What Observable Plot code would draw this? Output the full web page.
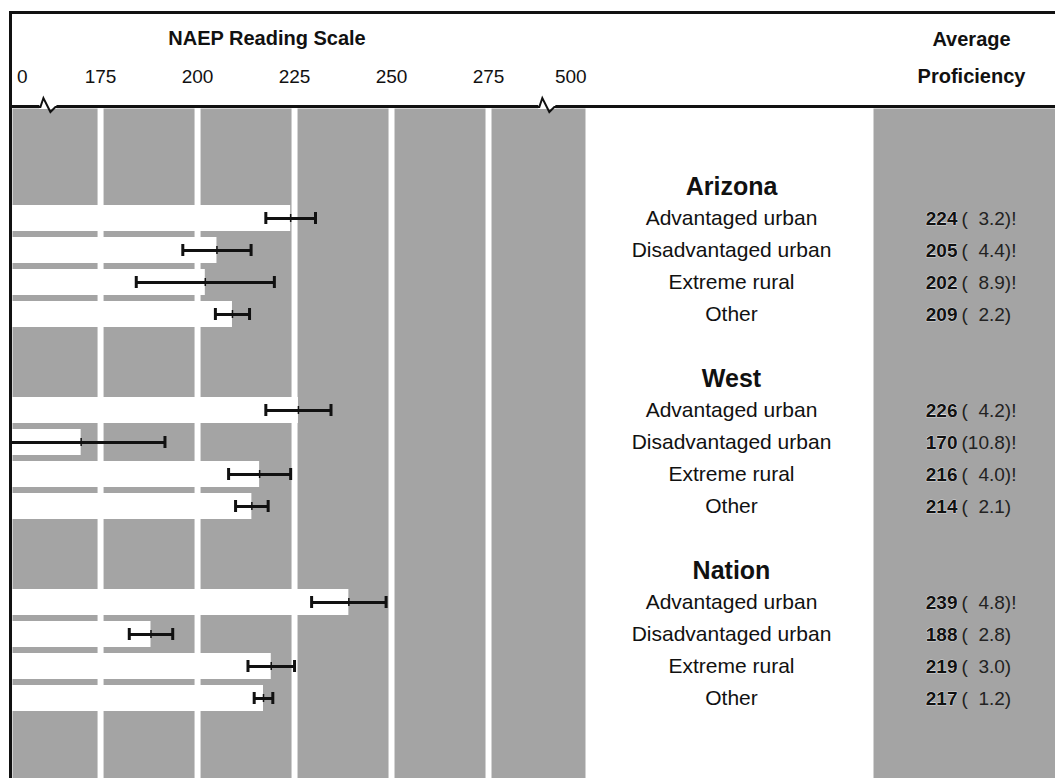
<!DOCTYPE html>
<html><head><meta charset="utf-8">
<script src="https://cdn.jsdelivr.net/npm/d3@7"></script>
<script src="https://cdn.jsdelivr.net/npm/@observablehq/plot@0.6"></script>
<style>
html,body{margin:0;padding:0;background:#fff;}
#wrap{position:relative;width:1055px;height:778px;overflow:hidden;}
#lines{position:absolute;left:0;top:0;width:1055px;height:778px;z-index:0;}
#lines div{position:absolute;background:#111;}
#row{position:absolute;left:0;top:0;display:flex;z-index:1;}
#row svg{display:block;}
</style></head>
<body>
<svg width="0" height="0" style="position:absolute;left:0;top:0">
<defs>
<pattern id="stipple" patternUnits="userSpaceOnUse" width="2" height="2">
<rect width="2" height="2" fill="#ffffff"/>
<rect x="0" y="0" width="1" height="1" fill="#4a4a4a"/>
<rect x="1" y="1" width="1" height="1" fill="#4a4a4a"/>
</pattern>
</defs>
</svg>
<div id="wrap">
  <div id="lines">
    <div style="left:9px;top:11px;width:1046px;height:3px"></div>
    <div style="left:9px;top:11px;width:3px;height:767px"></div>
    <div style="left:9px;top:105px;width:1046px;height:3px"></div>
  </div>
  <div id="row"></div>
</div>
<script>
// ---- data ----
const groups = ["Arizona", "West", "Nation"];
const categories = ["Advantaged urban", "Disadvantaged urban", "Extreme rural", "Other"];
const arizonaScores = [224, 205, 202, 209];
const westScores = [226, 170, 216, 214];
const nationScores = [239, 188, 219, 217];
const arizonaSE = [3.2, 4.4, 8.9, 2.2];
const westSE = [4.2, 10.8, 4.0, 2.1];
const nationSE = [4.8, 2.8, 3.0, 1.2];
const arizonaFlag = [true, true, true, false];
const westFlag = [true, true, true, false];
const nationFlag = [true, false, false, false];
const tickValues = [154.8, 175, 200, 225, 250, 275, 296.2];
const tickLabels = ["0", "175", "200", "225", "250", "275", "500"];
const gridValues = [175, 200, 225, 250, 275];
const scaleBreaks = [161.3, 289.9];
const xDomain = [152.3, 300];
const scaleTitle = "NAEP Reading Scale";
const columnHeader = ["Average", "Proficiency"];

// ---- build tables ----
const scoreLists = [arizonaScores, westScores, nationScores];
const seLists = [arizonaSE, westSE, nationSE];
const flagLists = [arizonaFlag, westFlag, nationFlag];
const headers = [];
const rows = [];
groups.forEach((g, gi) => {
  headers.push({group: g, slot: gi * 6});
  categories.forEach((c, ci) => {
    const score = scoreLists[gi][ci], se = seLists[gi][ci];
    rows.push({group: g, category: c, slot: gi * 6 + 1 + ci, score, se,
      flag: flagLists[gi][ci], lo: score - 2 * se, hi: score + 2 * se});
  });
});
const seText = d => "(" + (d.se < 10 ? "\u2007" : "") + d.se.toFixed(1) + ")" + (d.flag ? "!" : "");

const H = 778, TOP = 108;
const slotDomain = d3.range(-2, 19);
const yScale = () => ({type: "band", domain: slotDomain, range: [102.5, 102.5 + 21 * 32.3],
  paddingInner: 0.18, paddingOuter: 0.09, axis: null});
const font = "'Liberation Sans', Arial, Helvetica, sans-serif";
const baseStyle = (size) => ({fontFamily: font, fontSize: size, background: "transparent", color: "#111", overflow: "visible"});

const eraser = {draw(ctx) { ctx.moveTo(-8, 0); ctx.lineTo(9, 0); }};
const zigzag = {draw(ctx) { ctx.moveTo(-9, 0); ctx.lineTo(-7, 0); ctx.lineTo(-4, -9); ctx.lineTo(3, 5); ctx.lineTo(8, 0); ctx.lineTo(10, 0); }};

const chart = Plot.plot({
  width: 585, height: H, marginLeft: 12, marginRight: 0, marginTop: TOP, marginBottom: 0,
  style: baseStyle("19px"),
  x: {domain: xDomain, axis: null},
  y: yScale(),
  marks: [
    Plot.frame({fill: "url(#stipple)", stroke: "none"}),
    Plot.ruleX(gridValues, {stroke: "white", strokeWidth: 6}),
    Plot.barX(rows, {x: "score", y: "slot", fill: "white", clip: true}),
    Plot.ruleY(rows, {y: "slot", x1: "lo", x2: "hi", stroke: "#111", strokeWidth: 3, clip: true}),
    Plot.tickX(rows, {x: "lo", y: "slot", stroke: "#111", strokeWidth: 3, insetTop: 7, insetBottom: 7, clip: true}),
    Plot.tickX(rows, {x: "hi", y: "slot", stroke: "#111", strokeWidth: 3, insetTop: 7, insetBottom: 7, clip: true}),
    Plot.tickX(rows, {x: "score", y: "slot", stroke: "#111", strokeWidth: 1.5, insetTop: 9, insetBottom: 9}),
    Plot.axisX(tickValues, {anchor: "top", tickSize: 0, tickPadding: 26,
      tickFormat: d => tickLabels[tickValues.indexOf(d)], label: null}),
    Plot.text([scaleTitle], {text: d => d, frameAnchor: "top", lineAnchor: "middle", dx: -32, dy: -70, fontWeight: "bold", fontSize: 20}),
    Plot.dot(scaleBreaks, {x: d => d, frameAnchor: "top", dy: -1.5, symbol: eraser, stroke: "white", strokeWidth: 4, fill: "none"}),
    Plot.dot(scaleBreaks, {x: d => d, frameAnchor: "top", dy: -1.5, symbol: zigzag, stroke: "#111", strokeWidth: 2, fill: "none"})
  ]
});

const labels = Plot.plot({
  width: 288, height: H, margin: 0, marginTop: TOP,
  style: baseStyle("21px"),
  y: yScale(),
  marks: [
    Plot.text(headers, {y: "slot", text: "group", fontWeight: "bold", fontSize: 25, dx: 2, fill: "#111"}),
    Plot.text(rows, {y: "slot", text: "category", fontSize: 21, dx: 2, fill: "#111"})
  ]
});

const values = Plot.plot({
  width: 182, height: H, margin: 0, marginTop: TOP,
  style: baseStyle("19px"),
  y: yScale(),
  marks: [
    Plot.frame({fill: "url(#stipple)", stroke: "none"}),
    Plot.text([columnHeader[0]], {text: d => d, frameAnchor: "top", lineAnchor: "middle", dx: 7, dy: -69, fontWeight: "bold", fontSize: 20}),
    Plot.text([columnHeader[1]], {text: d => d, frameAnchor: "top", lineAnchor: "middle", dx: 7, dy: -32, fontWeight: "bold", fontSize: 20}),
    Plot.text(rows, {y: "slot", text: d => String(d.score), frameAnchor: "left", dx: 84, textAnchor: "end",
      fontWeight: "bold", fontSize: 19, fill: "#111", stroke: "white", strokeWidth: 0.6, paintOrder: "stroke"}),
    Plot.text(rows, {y: "slot", text: seText, frameAnchor: "left", dx: 88, textAnchor: "start", fontSize: 19, fill: "#222"})
  ]
});

const row = document.getElementById("row");
row.append(chart, labels, values);
</script>
</body></html>
